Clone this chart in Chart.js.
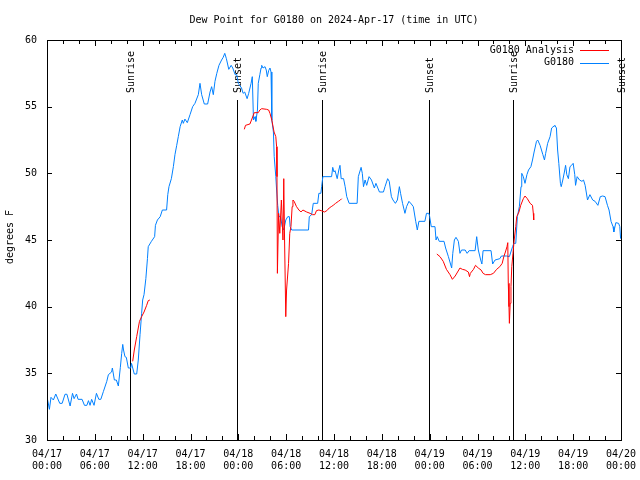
<!DOCTYPE html>
<html>
<head>
<meta charset="utf-8">
<title>Dew Point for G0180</title>
<script src="https://cdn.jsdelivr.net/npm/chart.js@4.4.0/dist/chart.umd.min.js"></script>
<style>
  html, body { margin: 0; padding: 0; background: #fff; }
</style>
</head>
<body>
<canvas id="dewpt" width="640" height="480"></canvas>
<script>
// hours since 04/17 00:00 UTC
const blueHours = [0.0,0.3,0.5,0.8,1.1,1.6,1.9,2.26,2.5,2.9,3.2,3.4,3.7,3.9,4.4,4.7,5.0,5.2,5.4,5.6,5.9,6.2,6.5,6.75,7.07,7.5,7.7,8.1,8.2,8.45,8.7,8.95,9.2,9.37,9.5,9.6,9.78,9.95,10.2,10.5,10.6,10.95,11.25,11.45,11.67,11.87,12.0,12.17,12.4,12.6,12.7,13.1,13.5,13.6,13.85,14.2,14.47,15.0,15.15,15.3,15.6,15.85,16.05,16.27,16.47,16.7,16.97,17.1,17.3,17.6,17.94,18.27,18.56,18.98,19.19,19.4,19.73,20.15,20.45,20.65,20.86,21.07,21.3,21.57,21.9,22.1,22.3,22.5,22.8,23.1,23.3,23.6,23.8,24.0,24.4,24.6,24.8,25.1,25.3,25.6,25.75,25.9,26.1,26.2,26.4,26.5,26.7,26.85,26.93,27.1,27.35,27.5,27.63,27.8,27.97,28.1,28.2,28.4,28.5,28.7,28.8,28.94,29.1,29.3,29.5,29.7,29.95,30.2,30.4,30.5,30.7,32.8,32.9,33.2,33.4,33.95,34.1,34.35,34.45,34.6,35.7,35.84,36.0,36.13,36.4,36.6,36.75,36.9,37.2,37.4,37.6,37.9,38.9,39.05,39.4,39.55,39.7,39.9,40.1,40.4,40.7,41.06,41.26,41.7,42.2,42.4,42.73,42.93,43.2,43.4,43.7,43.95,44.2,44.35,44.6,44.9,45.1,45.4,45.7,45.95,46.25,46.45,46.65,47.4,47.6,47.9,48.0,48.2,48.67,48.8,48.95,49.2,49.8,50.0,50.35,50.76,50.9,51.1,51.3,51.6,51.8,52.0,52.45,52.7,52.95,53.7,53.9,54.1,54.4,54.55,54.7,55.7,55.9,56.2,56.8,57.0,57.67,58.0,58.4,58.56,58.8,59.0,59.25,59.46,59.55,59.75,59.96,60.2,60.4,60.7,60.9,61.1,61.4,61.55,61.85,62.2,62.4,62.55,62.8,63.1,63.3,63.6,63.7,63.9,64.05,64.2,64.4,64.5,64.7,64.9,65.05,65.2,65.4,65.6,65.8,66.0,66.2,66.3,66.5,66.8,67.1,67.3,67.5,67.8,68.1,68.45,68.75,69.1,69.4,69.7,70.0,70.3,70.5,70.75,71.0,71.1,71.35,71.7,71.85,71.95];
const blueDewpt = [33.25,32.3,33.2,33.0,33.45,32.75,32.75,33.43,33.43,32.55,33.5,33.1,33.45,33.05,33.05,32.6,32.6,32.95,32.6,33.05,32.6,33.5,33.05,33.05,33.63,34.4,34.9,35.1,35.4,34.5,34.5,34.05,35.45,36.5,37.17,36.75,36.25,36.2,35.4,35.4,35.75,34.95,34.95,36.0,37.9,39.5,40.5,40.9,42.1,43.6,44.5,44.9,45.25,46.1,46.5,46.75,47.25,47.25,48.4,49.0,49.6,50.5,51.4,52.1,52.75,53.5,54.0,53.75,54.07,53.8,54.4,55.0,55.25,55.9,56.75,55.9,55.2,55.2,56.1,56.5,55.9,56.9,57.5,58.1,58.5,58.7,59.0,58.6,57.8,58.1,57.9,57.4,57.4,56.75,56.4,56.0,56.1,55.6,56.0,56.75,57.25,54.0,54.25,53.9,54.75,56.75,57.4,57.9,58.1,57.9,58.0,57.75,57.25,57.7,57.9,57.6,54.0,53.1,51.25,49.75,48.75,47.6,46.75,46.75,46.0,45.75,46.5,46.75,46.75,46.0,45.75,45.75,46.75,46.9,47.75,47.75,48.5,48.5,49.0,49.75,49.75,50.45,50.1,50.2,49.6,50.25,50.6,49.6,49.6,49.0,48.25,47.75,47.75,49.75,50.45,50.0,49.0,49.5,49.1,49.75,49.5,48.9,49.25,48.6,48.6,49.0,49.6,49.4,48.25,48.0,47.75,48.0,49.0,48.5,47.75,47.0,47.5,47.9,47.7,47.5,46.4,45.75,46.4,46.4,47.0,47.0,46.75,46.0,46.0,45.0,45.25,44.9,44.9,44.4,43.75,42.9,44.0,45.0,45.2,44.9,44.0,44.25,44.25,44.0,44.2,44.2,45.25,44.25,43.5,43.2,44.2,44.2,43.2,43.5,43.6,43.8,43.8,43.75,44.5,44.75,44.75,46.75,47.5,49.0,50.0,49.75,49.25,49.9,50.25,50.5,51.0,51.6,52.4,52.5,52.1,51.4,51.0,51.5,52.25,52.75,53.4,53.55,53.6,53.4,51.75,50.75,49.25,49.0,49.5,50.1,50.6,49.9,49.6,50.5,50.6,50.75,49.9,49.1,49.75,49.5,49.4,49.5,49.1,48.0,48.4,48.0,47.9,47.6,48.25,48.3,48.25,47.6,47.25,46.4,46.0,45.6,46.3,46.25,46.0,45.1];

// analysis series, null = no analysis
const redHours = [10.75,10.95,11.25,11.6,11.87,12.17,12.5,12.7,12.9,13.0,
  24.75,24.9,25.45,25.65,26.0,26.5,26.7,26.93,27.55,27.8,27.97,28.2,28.48,28.7,28.8,28.85,28.9,29.05,29.2,29.4,29.6,29.7,29.8,29.95,30.05,30.3,30.45,30.6,30.75,30.85,31.0,31.3,31.6,31.85,32.1,32.57,33.0,33.3,33.6,33.8,34.1,34.4,34.8,35.1,35.4,35.65,35.9,36.2,36.55,36.8,36.97,37.1,
  48.9,49.3,49.7,50.1,50.55,50.85,51.2,51.5,51.8,52.1,52.45,52.85,53.0,53.1,53.5,53.75,54.1,54.45,54.7,55.0,55.6,56.0,56.4,56.8,57.1,57.3,57.5,57.7,57.8,57.86,57.95,58.0,58.1,58.2,58.3,58.45,58.6,58.8,58.92,59.2,59.42,59.75,59.96,60.25,60.6,60.9,61.0,61.05];
const redDewpt = [35.9,36.75,37.75,38.9,39.25,39.6,40.1,40.45,40.5,null,
  53.3,53.6,53.7,54.0,54.55,54.55,54.75,54.85,54.8,54.75,54.5,54.0,53.1,52.75,52.0,49.75,42.5,47.0,45.5,48.0,45.0,49.6,45.0,39.25,41.25,43.25,45.5,46.0,47.5,48.0,47.9,47.5,47.25,47.1,47.25,47.1,47.0,46.9,46.9,47.2,47.25,47.2,47.1,47.2,47.4,47.5,47.6,47.75,47.9,48.0,48.1,null,
  43.95,43.75,43.4,42.8,42.4,42.05,42.3,42.6,42.9,42.8,42.75,42.6,42.25,42.5,42.8,43.1,42.9,42.75,42.5,42.4,42.4,42.5,42.8,43.0,43.25,43.75,44.1,44.5,44.8,41.75,40.0,38.75,40.25,41.5,43.0,44.0,45.0,46.0,46.75,47.1,47.6,48.1,48.3,48.1,47.75,47.6,47.0,46.5];

const eventHours = [10.45, 23.87, 34.53, 47.95, 58.49, 72.0];
const eventNames = ['Sunrise', 'Sunset', 'Sunrise', 'Sunset', 'Sunrise', 'Sunset'];

const tickDates = ['04/17','04/17','04/17','04/17','04/18','04/18','04/18','04/18','04/19','04/19','04/19','04/19','04/20'];
const tickTimes = ['00:00','06:00','12:00','18:00','00:00','06:00','12:00','18:00','00:00','06:00','12:00','18:00','00:00'];

const FONT = '"DejaVu Sans Mono", "Liberation Mono", monospace';
const BLUE = '#0080ff';
const RED = '#ff0000';

const gnuplotDecor = {
  id: 'gnuplotDecor',
  beforeDatasetsDraw(chart) {
    const { ctx, scales: { x, y } } = chart;
    ctx.save();
    ctx.strokeStyle = '#000';
    ctx.lineWidth = 1;
    ctx.fillStyle = '#000';
    ctx.font = '10px ' + FONT;
    eventHours.forEach((h, i) => {
      const px = Math.round(x.getPixelForValue(h)) + 0.5;
      ctx.beginPath();
      ctx.moveTo(px, y.getPixelForValue(55.5));
      ctx.lineTo(px, y.getPixelForValue(30));
      ctx.stroke();
      ctx.save();
      ctx.translate(px + 1, y.getPixelForValue(55.5) - 7);
      ctx.rotate(-Math.PI / 2);
      ctx.textAlign = 'left';
      ctx.textBaseline = 'middle';
      ctx.fillText(eventNames[i], 0, 0);
      ctx.restore();
    });
    ctx.restore();
  },
  afterDraw(chart) {
    const { ctx, chartArea: a, scales: { x, y } } = chart;
    ctx.save();
    ctx.strokeStyle = '#000';
    ctx.lineWidth = 1;
    // frame
    ctx.strokeRect(Math.round(a.left) + 0.5, Math.round(a.top) + 0.5,
      Math.round(a.right - a.left), Math.round(a.bottom - a.top));
    // inward ticks
    ctx.beginPath();
    for (let h = 0; h <= 72; h += 2) {
      const px = Math.round(x.getPixelForValue(h)) + 0.5;
      const len = h % 6 === 0 ? 6 : 4;
      ctx.moveTo(px, a.bottom); ctx.lineTo(px, a.bottom - len);
      ctx.moveTo(px, a.top); ctx.lineTo(px, a.top + len);
    }
    for (let v = 30; v <= 60; v += 5) {
      const py = Math.round(y.getPixelForValue(v)) + 0.5;
      ctx.moveTo(a.left, py); ctx.lineTo(a.left + 5, py);
      ctx.moveTo(a.right, py); ctx.lineTo(a.right - 5, py);
    }
    ctx.stroke();

    ctx.fillStyle = '#000';
    ctx.font = '10px ' + FONT;
    // title
    ctx.textAlign = 'center';
    ctx.textBaseline = 'middle';
    ctx.fillText('Dew Point for G0180 on 2024-Apr-17 (time in UTC)', (a.left + a.right) / 2, 20);
    // y axis title
    ctx.save();
    ctx.translate(10, 237);
    ctx.rotate(-Math.PI / 2);
    ctx.fillText('degrees F', 0, 0);
    ctx.restore();
    // legend
    const rows = [['G0180 Analysis', RED, 50], ['G0180', BLUE, 62.5]];
    ctx.textAlign = 'right';
    rows.forEach(([label, color, ty]) => {
      ctx.fillStyle = '#000';
      ctx.fillText(label, 574, ty);
      ctx.strokeStyle = color;
      ctx.beginPath();
      ctx.moveTo(580, Math.round(ty) + 0.5);
      ctx.lineTo(609, Math.round(ty) + 0.5);
      ctx.stroke();
    });
    ctx.restore();
  }
};

new Chart(document.getElementById('dewpt'), {
  type: 'line',
  data: {
    datasets: [
      {
        label: 'G0180 Analysis',
        data: redHours.map((h, i) => ({ x: h, y: redDewpt[i] })),
        borderColor: RED,
        spanGaps: false
      },
      {
        label: 'G0180',
        data: blueHours.map((h, i) => ({ x: h, y: blueDewpt[i] })),
        borderColor: BLUE
      }
    ]
  },
  options: {
    responsive: false,
    animation: false,
    devicePixelRatio: 1,
    layout: { padding: { top: 40, right: 19, left: 0, bottom: 0 } },
    elements: {
      point: { radius: 0 },
      line: { borderWidth: 1, tension: 0 }
    },
    plugins: {
      legend: { display: false },
      tooltip: { enabled: false },
      title: { display: false }
    },
    scales: {
      x: {
        type: 'linear',
        min: 0,
        max: 72,
        grid: { display: false, drawTicks: false },
        border: { display: false },
        ticks: {
          stepSize: 6,
          autoSkip: false,
          maxRotation: 0,
          padding: 8,
          color: '#000',
          font: { family: FONT, size: 10, lineHeight: 1.2 },
          callback: (v) => {
            const i = Math.round(v / 6);
            return [tickDates[i], tickTimes[i]];
          }
        },
        afterFit: (s) => { s.height = 40; s.paddingLeft = 0; s.paddingRight = 0; }
      },
      y: {
        min: 30,
        max: 60,
        grid: { display: false, drawTicks: false },
        border: { display: false },
        ticks: {
          stepSize: 5,
          padding: 10,
          color: '#000',
          font: { family: FONT, size: 10 }
        },
        afterFit: (s) => { s.width = 47; s.paddingTop = 0; s.paddingBottom = 0; }
      }
    }
  },
  plugins: [gnuplotDecor]
});
</script>
</body>
</html>
